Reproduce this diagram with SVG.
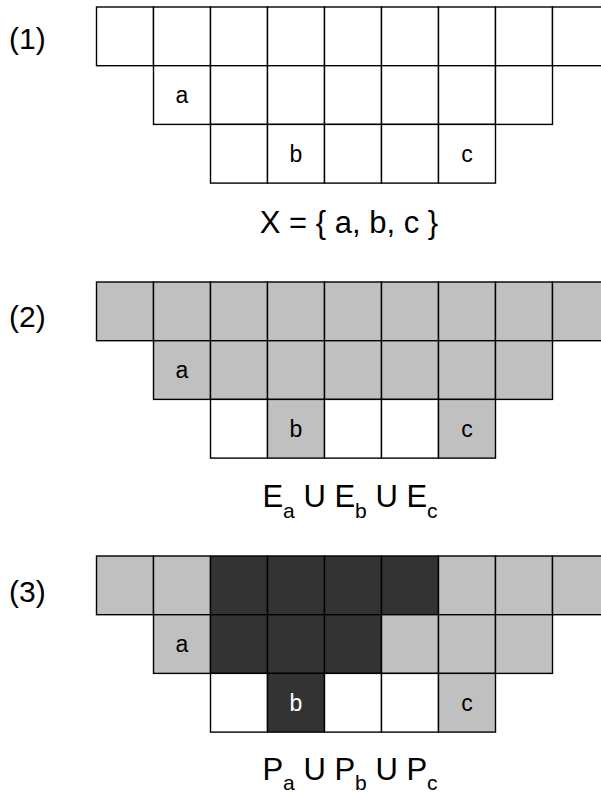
<svg xmlns="http://www.w3.org/2000/svg" width="601" height="795" viewBox="0 0 601 795">
<style>
text{font-family:"Liberation Sans",Arial,sans-serif;fill:#000}
.c{stroke:#000;stroke-width:1.4;fill:#fff}
.g{fill:#c0c0c0}
.d{fill:#333333}
.lbl{font-size:30px}
.cl{font-size:23px;text-anchor:middle}
.w{fill:#fff}
.f{font-size:31px;text-anchor:middle}
.s{font-size:21px}
</style>
<rect width="601" height="795" fill="#fff"/>

<g id="part1">
<text class="lbl" x="9" y="49">(1)</text>
<g id="grid1" transform="translate(0,7)">
<rect class="c" x="96.5" y="0" width="57" height="58.7"/>
<rect class="c" x="153.5" y="0" width="57" height="58.7"/>
<rect class="c" x="210.5" y="0" width="57" height="58.7"/>
<rect class="c" x="267.5" y="0" width="57" height="58.7"/>
<rect class="c" x="324.5" y="0" width="57" height="58.7"/>
<rect class="c" x="381.5" y="0" width="57" height="58.7"/>
<rect class="c" x="438.5" y="0" width="57" height="58.7"/>
<rect class="c" x="495.5" y="0" width="57" height="58.7"/>
<rect class="c" x="552.5" y="0" width="57" height="58.7"/>
<rect class="c" x="153.5" y="58.7" width="57" height="58.7"/>
<rect class="c" x="210.5" y="58.7" width="57" height="58.7"/>
<rect class="c" x="267.5" y="58.7" width="57" height="58.7"/>
<rect class="c" x="324.5" y="58.7" width="57" height="58.7"/>
<rect class="c" x="381.5" y="58.7" width="57" height="58.7"/>
<rect class="c" x="438.5" y="58.7" width="57" height="58.7"/>
<rect class="c" x="495.5" y="58.7" width="57" height="58.7"/>
<rect class="c" x="210.5" y="117.4" width="57" height="58.7"/>
<rect class="c" x="267.5" y="117.4" width="57" height="58.7"/>
<rect class="c" x="324.5" y="117.4" width="57" height="58.7"/>
<rect class="c" x="381.5" y="117.4" width="57" height="58.7"/>
<rect class="c" x="438.5" y="117.4" width="57" height="58.7"/>
<text class="cl" x="182" y="96">a</text>
<text class="cl" x="296" y="155">b</text>
<text class="cl" x="467" y="155">c</text>
</g>
<text class="f" x="349" y="233">X = { a, b, c }</text>
</g>

<g id="part2">
<text class="lbl" x="9" y="327">(2)</text>
<g id="grid2" transform="translate(0,282)">
<rect class="c g" x="96.5" y="0" width="57" height="58.7"/>
<rect class="c g" x="153.5" y="0" width="57" height="58.7"/>
<rect class="c g" x="210.5" y="0" width="57" height="58.7"/>
<rect class="c g" x="267.5" y="0" width="57" height="58.7"/>
<rect class="c g" x="324.5" y="0" width="57" height="58.7"/>
<rect class="c g" x="381.5" y="0" width="57" height="58.7"/>
<rect class="c g" x="438.5" y="0" width="57" height="58.7"/>
<rect class="c g" x="495.5" y="0" width="57" height="58.7"/>
<rect class="c g" x="552.5" y="0" width="57" height="58.7"/>
<rect class="c g" x="153.5" y="58.7" width="57" height="58.7"/>
<rect class="c g" x="210.5" y="58.7" width="57" height="58.7"/>
<rect class="c g" x="267.5" y="58.7" width="57" height="58.7"/>
<rect class="c g" x="324.5" y="58.7" width="57" height="58.7"/>
<rect class="c g" x="381.5" y="58.7" width="57" height="58.7"/>
<rect class="c g" x="438.5" y="58.7" width="57" height="58.7"/>
<rect class="c g" x="495.5" y="58.7" width="57" height="58.7"/>
<rect class="c" x="210.5" y="117.4" width="57" height="58.7"/>
<rect class="c g" x="267.5" y="117.4" width="57" height="58.7"/>
<rect class="c" x="324.5" y="117.4" width="57" height="58.7"/>
<rect class="c" x="381.5" y="117.4" width="57" height="58.7"/>
<rect class="c g" x="438.5" y="117.4" width="57" height="58.7"/>
<text class="cl" x="182" y="96">a</text>
<text class="cl" x="296" y="155">b</text>
<text class="cl" x="467" y="155">c</text>
</g>
<text class="f" x="350" y="507">E<tspan class="s" dy="11">a</tspan><tspan dy="-11"> U E</tspan><tspan class="s" dy="11">b</tspan><tspan dy="-11"> U E</tspan><tspan class="s" dy="11">c</tspan></text>
</g>

<g id="part3">
<text class="lbl" x="9" y="602">(3)</text>
<g id="grid3" transform="translate(0,556)">
<rect class="c g" x="96.5" y="0" width="57" height="58.7"/>
<rect class="c g" x="153.5" y="0" width="57" height="58.7"/>
<rect class="c d" x="210.5" y="0" width="57" height="58.7"/>
<rect class="c d" x="267.5" y="0" width="57" height="58.7"/>
<rect class="c d" x="324.5" y="0" width="57" height="58.7"/>
<rect class="c d" x="381.5" y="0" width="57" height="58.7"/>
<rect class="c g" x="438.5" y="0" width="57" height="58.7"/>
<rect class="c g" x="495.5" y="0" width="57" height="58.7"/>
<rect class="c g" x="552.5" y="0" width="57" height="58.7"/>
<rect class="c g" x="153.5" y="58.7" width="57" height="58.7"/>
<rect class="c d" x="210.5" y="58.7" width="57" height="58.7"/>
<rect class="c d" x="267.5" y="58.7" width="57" height="58.7"/>
<rect class="c d" x="324.5" y="58.7" width="57" height="58.7"/>
<rect class="c g" x="381.5" y="58.7" width="57" height="58.7"/>
<rect class="c g" x="438.5" y="58.7" width="57" height="58.7"/>
<rect class="c g" x="495.5" y="58.7" width="57" height="58.7"/>
<rect class="c" x="210.5" y="117.4" width="57" height="58.7"/>
<rect class="c d" x="267.5" y="117.4" width="57" height="58.7"/>
<rect class="c" x="324.5" y="117.4" width="57" height="58.7"/>
<rect class="c" x="381.5" y="117.4" width="57" height="58.7"/>
<rect class="c g" x="438.5" y="117.4" width="57" height="58.7"/>
<text class="cl" x="182" y="96">a</text>
<text class="cl w" x="296" y="155">b</text>
<text class="cl" x="467" y="155">c</text>
</g>
<text class="f" x="350" y="780">P<tspan class="s" dy="10">a</tspan><tspan dy="-10"> U P</tspan><tspan class="s" dy="10">b</tspan><tspan dy="-10"> U P</tspan><tspan class="s" dy="10">c</tspan></text>
</g>
</svg>
